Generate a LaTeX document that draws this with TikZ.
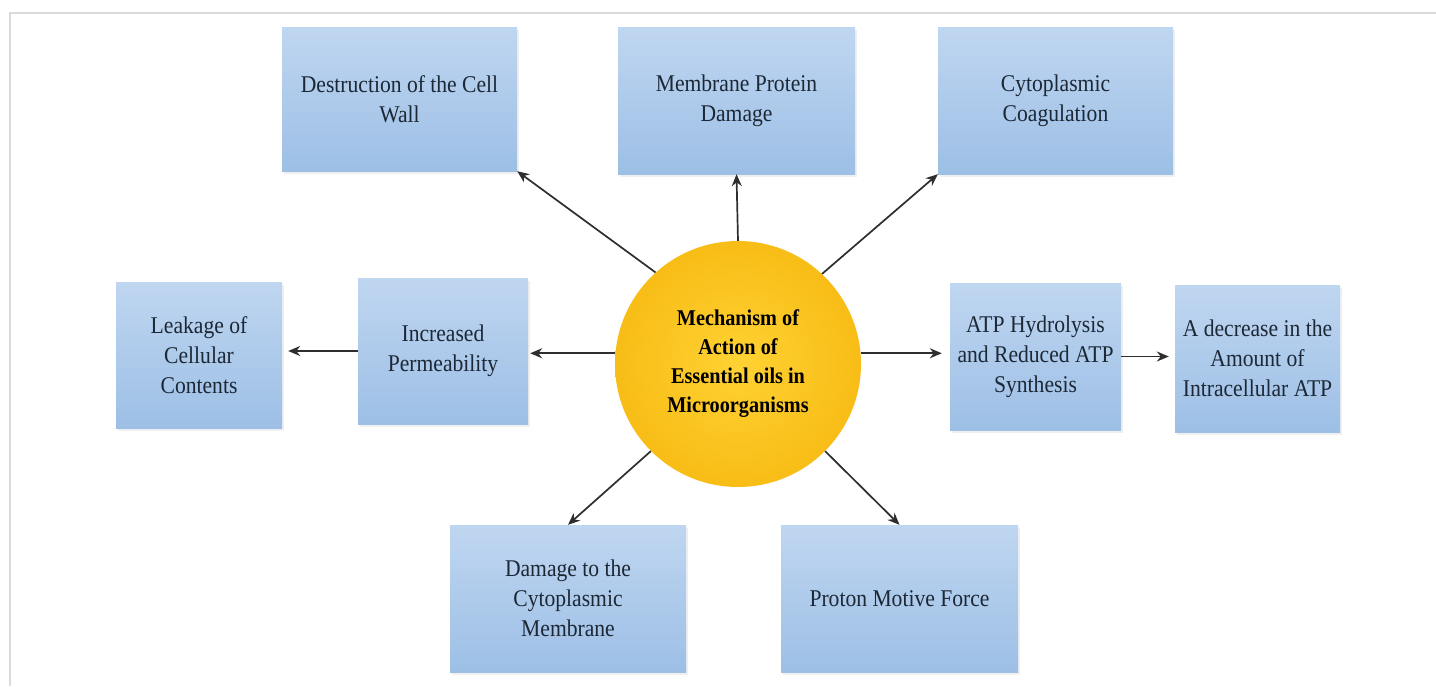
\documentclass[tikz,border=0pt]{standalone}
\usepackage{fontspec}
\setmainfont{Liberation Serif}[FakeStretch=0.9]
\usetikzlibrary{arrows.meta,shadows,calc}
\definecolor{boxtop}{HTML}{BFD6F0}
\definecolor{boxbot}{HTML}{9DBFE6}
\definecolor{txt}{HTML}{1C2836}
\definecolor{sunin}{HTML}{FFD233}
\definecolor{sunout}{HTML}{F8BD16}
\definecolor{arrowc}{HTML}{2E2E2E}
\definecolor{framec}{HTML}{DADADA}
\tikzset{
  infobox/.style={rectangle, top color=boxtop, bottom color=boxbot, draw=none,
    inner sep=0pt, align=center, text=txt,
    font=\fontsize{24}{30}\selectfont,
    drop shadow={opacity=0.12, shadow xshift=2pt, shadow yshift=-3pt}},
  hub/.style={circle, inner color=sunin, outer color=sunout, draw=none,
    minimum size=246pt, inner sep=0pt, align=center, text=black,
    font=\fontsize{22.5}{29}\selectfont\bfseries},
  arr/.style={draw=arrowc, line width=1.7pt, -{Stealth[length=12pt,width=10pt]}}
}
\begin{document}
\begin{tikzpicture}[x=1pt,y=-1pt]
\useasboundingbox (0,0) rectangle (1436,686);
\fill[white] (0,0) rectangle (1436,686);
\draw[framec, line width=1.5pt] (10,686) -- (10,13) -- (1436,13);

\node[infobox, minimum width=235pt, minimum height=144pt] (cw) at (399.5,99) {Destruction of the Cell\\Wall};
\node[infobox, minimum width=237pt, minimum height=147pt] (mp) at (736.5,100.5) {Membrane Protein\\Damage};
\node[infobox, minimum width=235pt, minimum height=147pt] (cc) at (1055.5,100.5) {Cytoplasmic\\Coagulation};
\node[infobox, minimum width=166pt, minimum height=146pt] (lk) at (199,355) {Leakage of\\Cellular\\Contents};
\node[infobox, minimum width=170pt, minimum height=146pt] (ip) at (443,351) {Increased\\Permeability};
\node[infobox, minimum width=171pt, minimum height=147pt] (atp) at (1035.5,356.5) {ATP Hydrolysis\\and Reduced ATP\\Synthesis};
\node[infobox, minimum width=165pt, minimum height=147pt] (dec) at (1257.5,358.5) {A decrease in the\\Amount of\\Intracellular ATP};
\node[infobox, minimum width=236pt, minimum height=147pt] (dm) at (568,598.5) {Damage to the\\Cytoplasmic\\Membrane};
\node[infobox, minimum width=237pt, minimum height=147pt] (pm) at (899.5,598.5) {Proton Motive Force};

\node[hub] (c) at (738,364) {Mechanism of\\Action of\\Essential oils in\\Microorganisms};

\draw[arr] (c.132) -- (cw.south east);
\draw[arr] (c.90) -- (mp.south);
\draw[arr] (c.47) -- (cc.south west);
\draw[arr, shorten >=2pt] (c.175) -- (c.175 -| ip.east);
\draw[arr, shorten >=6pt] (ip.west) -- (ip.west -| lk.east);
\draw[arr, shorten >=8pt] (c.5) -- (c.5 -| atp.west);
\draw[arr, shorten >=6pt] (atp.east) -- (atp.east -| dec.west);
\draw[arr] (c.225) -- (dm.north);
\draw[arr] (c.-45) -- (pm.north);
\end{tikzpicture}
\end{document}
